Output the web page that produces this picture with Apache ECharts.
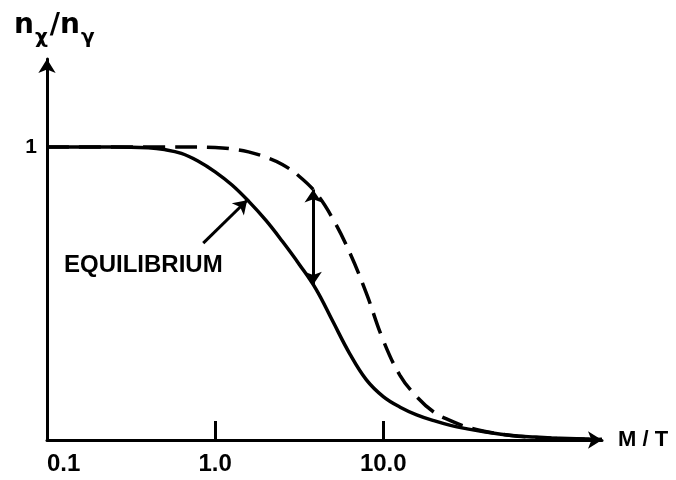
<!DOCTYPE html>
<html>
<head>
<meta charset="utf-8">
<script src="https://cdn.jsdelivr.net/npm/echarts@6/dist/echarts.min.js"></script>
<style>html,body{margin:0;padding:0;background:#fff}#c{width:676px;height:480px}</style>
</head>
<body>
<div id="c"></div>
<script>
// Equilibrium curve (solid): [M/T, n_x/n_gamma]
const equilibrium = [
  [0.1, 1.0], [0.25, 1.0], [0.4, 0.997], [0.5, 0.991], [0.63, 0.978], [0.79, 0.952],
  [1.0, 0.915], [1.26, 0.870], [1.58, 0.815], [2.0, 0.750], [2.51, 0.678], [3.16, 0.600],
  [3.98, 0.515], [5.01, 0.405], [6.31, 0.295], [7.94, 0.205], [10, 0.148], [12.6, 0.112],
  [15.8, 0.086], [20, 0.066], [25.1, 0.050], [31.6, 0.038], [39.8, 0.028], [50.1, 0.020],
  [63.1, 0.014], [79.4, 0.010], [100, 0.007], [158, 0.003], [200, 0.002]
];
// Frozen-out curve (dashed)
const actual = [
  [0.1, 1.0], [0.63, 1.0], [1.0, 0.998], [1.26, 0.993], [1.58, 0.983], [2.0, 0.965],
  [2.51, 0.940], [3.16, 0.900], [3.98, 0.843], [5.01, 0.755], [6.31, 0.640], [7.94, 0.500],
  [10, 0.340], [12.6, 0.220], [15.8, 0.148], [20, 0.095], [25.1, 0.066], [31.6, 0.044],
  [39.8, 0.030], [50.1, 0.020], [63.1, 0.013], [100, 0.006], [200, 0.002]
];
// Annotation arrows (data coordinates)
const gapArrow = [[3.83, 0.855], [3.83, 0.53]];
const eqArrow = [[0.85, 0.672], [1.55, 0.818]];
// Axis ticks / labels
const xTickValues = [1, 10];
const xLabelValues = [0.1, 1, 10];
const xLabelTexts = ['0.1', '1.0', '10.0'];
const yLabelValues = [1];
const yLabelTexts = ['1'];

const chart = echarts.init(document.getElementById('c'), null, {renderer: 'canvas'});
const fontBold = {fontFamily: 'Liberation Sans', fontWeight: 'bold', color: '#000'};

function xFmt(v) {
  for (let i = 0; i < xLabelValues.length; i++) {
    if (Math.abs(Math.log10(v) - Math.log10(xLabelValues[i])) < 1e-6) return xLabelTexts[i];
  }
  return '';
}
function yFmt(v) {
  for (let i = 0; i < yLabelValues.length; i++) {
    if (Math.abs(v - yLabelValues[i]) < 1e-6) return yLabelTexts[i];
  }
  return '';
}

chart.setOption({
  animation: false,
  backgroundColor: '#fff',
  grid: {left: 47, right: 74, top: 59, bottom: 40, containLabel: false, outerBoundsMode: 'none'},
  xAxis: {
    type: 'log', logBase: 10, min: 0.1, max: 200,
    name: 'M / T', nameLocation: 'end', nameGap: 16,
    nameTextStyle: Object.assign({fontSize: 22, verticalAlign: 'middle'}, fontBold),
    axisLine: {show: true, symbol: ['none', 'arrow'], symbolSize: [13, 14], lineStyle: {color: '#000', width: 3}},
    axisTick: {show: true, inside: true, length: 19, customValues: xTickValues, lineStyle: {color: '#000', width: 3}},
    axisLabel: Object.assign({show: true, fontSize: 24, margin: 12, customValues: xLabelValues, formatter: xFmt, alignMinLabel: 'left'}, fontBold),
    splitLine: {show: false},
    minorTick: {show: false}
  },
  yAxis: {
    type: 'value', min: 0, max: 1.3,
    axisLine: {show: true, symbol: ['none', 'arrow'], symbolSize: [13, 14], lineStyle: {color: '#000', width: 3}},
    axisTick: {show: false},
    axisLabel: Object.assign({show: true, fontSize: 21, margin: 10, customValues: yLabelValues, formatter: yFmt}, fontBold),
    splitLine: {show: false}
  },
  graphic: [
    {
      type: 'text', left: 14, top: 12,
      style: {
        text: '{n|n}{s|χ}{n|/n}{s|γ}',
        rich: {
          n: {fontSize: 28, fontWeight: 'bold', fontFamily: 'DejaVu Sans', fill: '#000', verticalAlign: 'bottom', padding: [0, 1, 8, 0]},
          s: {fontSize: 20, fontWeight: 'bold', fontFamily: 'DejaVu Sans', fill: '#000', verticalAlign: 'bottom', padding: [0, 2, 0, 0]}
        }
      }
    },
    {
      type: 'text', left: 64, top: 253,
      style: {text: 'EQUILIBRIUM', fontSize: 24, fontWeight: 'bold', fontFamily: 'Liberation Sans', fill: '#000'}
    }
  ],
  series: [
    {
      name: 'equilibrium', type: 'line', data: equilibrium, showSymbol: false, smooth: 0.4,
      lineStyle: {color: '#000', width: 3.5},
      markLine: {
        silent: true, symbol: ['arrow', 'arrow'], symbolSize: 13,
        label: {show: false},
        lineStyle: {color: '#000', width: 3, type: 'solid'},
        data: [
          [{coord: gapArrow[0]}, {coord: gapArrow[1]}],
          [{coord: eqArrow[0], symbol: 'none'}, {coord: eqArrow[1], symbol: 'arrow'}]
        ]
      }
    },
    {
      name: 'actual', type: 'line', data: actual, showSymbol: false, smooth: 0.4,
      lineStyle: {color: '#000', width: 3.5, type: [22, 10]}
    }
  ]
});
</script>
</body>
</html>
